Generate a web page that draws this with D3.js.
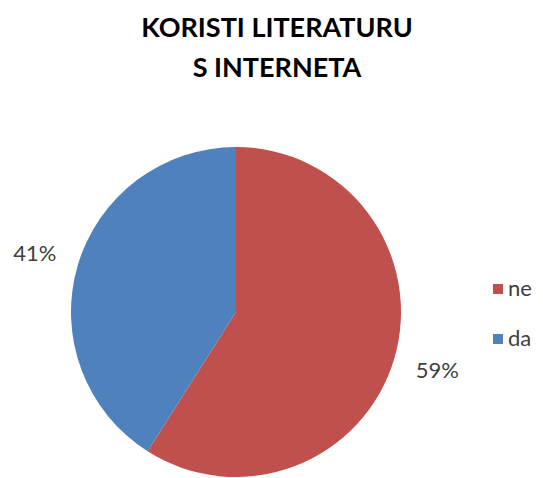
<!DOCTYPE html>
<html><head><meta charset="utf-8">
<script src="https://cdn.jsdelivr.net/npm/d3@7"></script>
<style>html,body{margin:0;padding:0;background:#fff;}</style>
</head><body>
<script>
const titleLines = ["KORISTI LITERATURU", "S INTERNETA"];
const categories = ["ne", "da"];
const values = [59, 41];
const colors = ["#C0504D", "#4F81BD"];

const W = 543, H = 478;
const svg = d3.select("body").append("svg").attr("width", W).attr("height", H)
  .style("font-family", "Lato, 'Open Sans', sans-serif");

svg.append("g").selectAll("text").data(titleLines).join("text")
  .attr("x", 277).attr("y", (d, i) => 37 + i * 40)
  .attr("text-anchor", "middle").attr("font-weight", "bold")
  .attr("font-size", 27).attr("fill", "#000").text(d => d);

const cx = 236, cy = 312, r = 165;
const data = categories.map((c, i) => ({cat: c, value: values[i]}));
const pie = d3.pie().sort(null).value(d => d.value);
const arcs = pie(data);
const arc = d3.arc().innerRadius(0).outerRadius(r);
const color = d3.scaleOrdinal().domain(categories).range(colors);

const g = svg.append("g").attr("transform", `translate(${cx},${cy})`);
g.selectAll("path").data(arcs).join("path")
  .attr("d", arc).attr("fill", d => color(d.data.cat));

const total = d3.sum(values);
const labelArc = d3.arc().innerRadius(r * 1.27).outerRadius(r * 1.27);
g.selectAll("text").data(arcs).join("text")
  .attr("transform", d => `translate(${labelArc.centroid(d)})`)
  .attr("text-anchor", "middle").attr("dy", "0.35em")
  .attr("font-size", 22).attr("fill", "#404040")
  .text(d => Math.round(d.data.value / total * 100) + "%");

const leg = svg.append("g").selectAll("g").data(categories).join("g")
  .attr("transform", (d, i) => `translate(493,${284 + i * 50})`);
leg.append("rect").attr("width", 10).attr("height", 10).attr("fill", d => color(d));
leg.append("text").attr("x", 15).attr("y", 12).attr("font-size", 22)
  .attr("fill", "#404040").text(d => d);
</script>
</body></html>
